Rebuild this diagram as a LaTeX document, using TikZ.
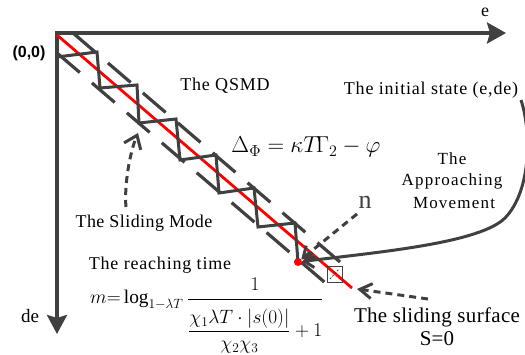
\documentclass[tikz,border=0pt]{standalone}
\usepackage{amsmath}
\usepackage{graphicx}
\usepackage{fontspec}
\setmainfont{Liberation Serif}
\newfontfamily\sansfam{Liberation Sans}
\usetikzlibrary{arrows.meta}
\definecolor{axisgray}{RGB}{64,64,64}
\definecolor{dotred}{RGB}{255,0,0}
\tikzset{
  axisline/.style={draw=axisgray, line width=3.6pt, line join=miter},
  redline/.style={draw=dotred, line width=2.8pt},
  boundline/.style={draw=axisgray, line width=3.2pt, dash pattern=on 30pt off 16pt},
  zigline/.style={draw=axisgray, line width=3pt, line join=miter},
  dasharrow/.style={draw=axisgray, line width=3pt, dash pattern=on 7pt off 5pt},
  curveline/.style={draw=axisgray, line width=3pt},
  lbl/.style={inner sep=0pt, text=black},
  dotnode/.style={circle, fill=dotred, inner sep=0pt, minimum size=8pt},
}
\newcommand{\lsfont}[2]{\fontsize{#1}{#1}\selectfont\addfontfeatures{LetterSpace=#2}}
\begin{document}
\begin{tikzpicture}[x=1pt,y=-1pt]
\useasboundingbox (0,0) rectangle (525,355);
\clip (0,0) rectangle (525,355);

% axes
\coordinate (O) at (57,33);
\coordinate (Ex) at (506,33);
\coordinate (Dy) at (57,334);
\draw[axisline, {Stealth[length=19pt,width=20pt,inset=3pt]}-{Stealth[length=19pt,width=21pt,inset=3pt]}] (Dy) -- (O) -- (Ex);

% boundary lines
\coordinate (U0) at (73,33);
\coordinate (U9) at (340,262);
\coordinate (L0) at (57,53);
\coordinate (L9) at (336,292);
\draw[boundline] (U0) -- (U9);
\draw[boundline] (L0) -- (L9);

% red sliding line
\coordinate (R0) at (57,35);
\coordinate (R1) at (352,288);
\draw[redline] (R0) -- (R1);

% zigzag
\coordinate (z0) at (57,57);
\coordinate (z1) at (97,52);
\coordinate (z2) at (100,88);
\coordinate (z3) at (137,85);
\coordinate (z4) at (139,123);
\coordinate (z5) at (176,119);
\coordinate (z6) at (180,160);
\coordinate (z7) at (216,155);
\coordinate (z8) at (219,193);
\coordinate (z9) at (254,188);
\coordinate (z10) at (258,227);
\coordinate (z11) at (295,223);
\coordinate (z12) at (298,262);
\draw[zigline] (z0) -- (z1) -- (z2) -- (z3) -- (z4) -- (z5) -- (z6) -- (z7) -- (z8) -- (z9) -- (z10) -- (z11) -- (z12);

% right angle marker
\coordinate (sq1) at (327,266);
\coordinate (sq2) at (342,282);
\draw[axisgray, line width=0.8pt] (sq1) rectangle (sq2);
\coordinate (sd1) at (330,279);
\coordinate (sd2) at (339,269);
\draw[axisgray, line width=0.8pt, dash pattern=on 2pt off 1.5pt] (sd1) -- (sd2);

% dot
\node[dotnode] (dot) at (298,262) {};

% approaching curve
\coordinate (init) at (521,100);
\coordinate (cm) at (505,218);
\draw[curveline, -{Straight Barb[length=9pt,width=15pt]}] (init) .. controls (531,130) and (532,190) .. (cm) .. controls (480,243) and (380,252) .. (dot);

% labels
\node[lbl, font=\lsfont{18}{0}] (elab) at (485,12) {e};
\node[lbl, font=\sansfam\bfseries\fontsize{16}{16}\selectfont] (orig) at (29,53) {(0,0)};
\node[lbl, font=\lsfont{19}{0}] (delab) at (30,316) {de};
\node[lbl, font=\lsfont{18}{4.5}] (qsmd) at (225,86) {The QSMD};
\node[lbl, font=\lsfont{18}{4.5}] (initst) at (431,90) {The initial state (e,de)};
\node[lbl] (delta) at (306,147) {\scalebox{1.11}{\fontsize{20.74}{24}\selectfont $\Delta_{\Phi}=\kappa T\!\Gamma_{2}-\varphi$}};
\node[lbl, font=\lsfont{17}{7}] (appr1) at (452,159) {The};
\node[lbl, font=\lsfont{17}{7}] (appr2) at (452,181) {Approaching};
\node[lbl, font=\lsfont{17}{7}] (appr3) at (454,203) {Movement};
\node[lbl, font=\lsfont{18}{2.5}] (slmode) at (144,223) {The Sliding Mode};
\node[lbl, font=\lsfont{26}{0}, text=axisgray] (nlab) at (365,202) {n};
\node[lbl, font=\lsfont{18}{4.5}] (reach) at (160,265) {The reaching time};
\node[lbl, anchor=base west] (mform) at (90,304) {\scalebox{1.12}{\fontsize{17.28}{20}\selectfont $m{=}\log_{1-\lambda T}\dfrac{1}{\dfrac{\rule{0pt}{19pt}\chi_1\lambda T\cdot\left|s(0)\right|}{\chi_2\chi_3}+1}$}};
\node[lbl, font=\lsfont{21}{1.5}] (surf) at (437,317) {The sliding surface};
\node[lbl, font=\lsfont{21}{0}] (szero) at (437,339) {S=0};

% dashed arrows
\coordinate (smstart) at (126,207);
\coordinate (smtip) at (138,133);
\draw[dasharrow, -{Straight Barb[length=12pt,width=18pt]}] (smstart) .. controls (124,185) and (130,152) .. (smtip);
\coordinate (nstart) at (357,214);
\draw[dasharrow, -{Straight Barb[length=10pt,width=15pt]}] (nstart) -- (dot);
\coordinate (ssstart) at (428,299);
\coordinate (sstip) at (357,289);
\draw[dasharrow, -{Straight Barb[length=12pt,width=15pt]}] (ssstart) -- (sstip);
\end{tikzpicture}
\end{document}
